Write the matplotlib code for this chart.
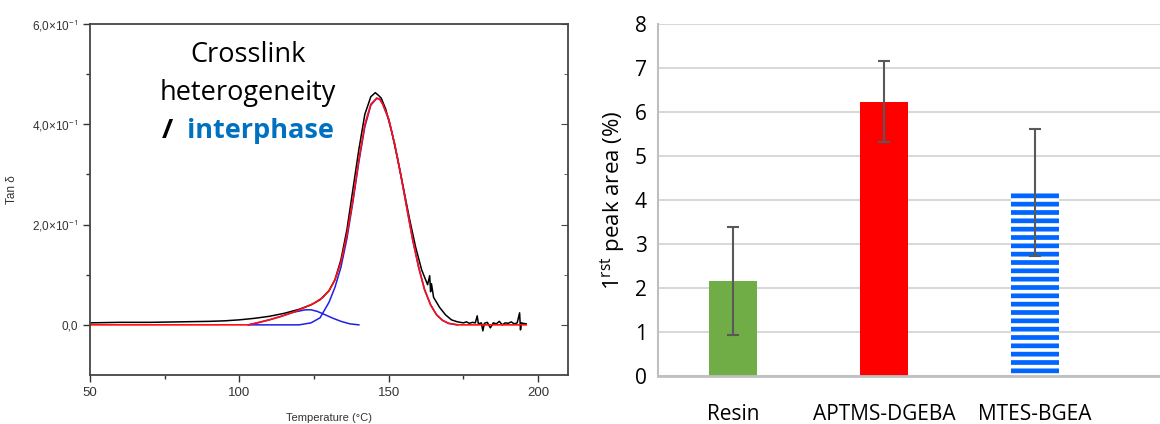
import numpy as np
import matplotlib
matplotlib.use('Agg')
import matplotlib.pyplot as plt
from matplotlib.ticker import MultipleLocator, FixedLocator

# ---- left panel : tan delta vs temperature ----
temp_meas = [50, 60, 70, 80, 90, 95, 100, 105, 110, 115, 120, 124, 127, 130, 132, 134, 136, 138,
             140, 142, 144, 145.5, 146.5, 147.5, 149, 151, 153, 155, 157, 159, 161, 163, 163.7,
             164.0, 164.3, 165, 167, 169, 171, 173, 175, 176, 177, 178, 179, 179.6, 180, 181,
             181.5, 182, 183, 184, 185, 186, 187, 188, 189, 190, 191, 192, 193, 193.8, 194.1,
             194.4, 195, 196]
tan_meas = [0.004, 0.005, 0.005, 0.006, 0.007, 0.008, 0.010, 0.013, 0.017, 0.023, 0.031, 0.040,
            0.050, 0.068, 0.090, 0.130, 0.190, 0.270, 0.350, 0.420, 0.455, 0.463, 0.458, 0.452,
            0.430, 0.385, 0.330, 0.270, 0.210, 0.155, 0.110, 0.080, 0.098, 0.066, 0.082, 0.055,
            0.035, 0.020, 0.010, 0.006, 0.004, 0.006, 0.003, 0.005, 0.004, 0.018, 0.002, 0.004,
            -0.012, 0.003, 0.005, -0.006, 0.004, 0.002, 0.007, 0.000, 0.004, 0.003, 0.006, 0.002,
            0.004, 0.024, -0.010, 0.004, 0.003, 0.002]

temp_fit = [50, 100, 103, 106, 110, 114, 118, 122, 125, 128, 130, 132, 134, 136, 138, 140, 142,
            144, 146, 147, 148, 150, 152, 154, 156, 158, 160, 162, 164, 166, 168, 170, 173, 196]
tan_fit = [0, 0, 0, 0.004, 0.010, 0.017, 0.025, 0.035, 0.043, 0.055, 0.068, 0.090, 0.125, 0.180,
           0.250, 0.330, 0.400, 0.440, 0.452, 0.450, 0.440, 0.410, 0.360, 0.300, 0.235, 0.170,
           0.115, 0.070, 0.040, 0.020, 0.009, 0.003, 0, 0]

temp_main = [103, 120, 124, 127, 130, 132, 134, 136, 138, 140, 142, 144, 146, 147, 148, 150, 152,
             154, 156, 158, 160, 162, 164, 166, 168, 170, 173]
tan_main = [0, 0, 0.004, 0.014, 0.045, 0.075, 0.115, 0.172, 0.245, 0.325, 0.395, 0.438, 0.452,
            0.450, 0.440, 0.410, 0.360, 0.300, 0.235, 0.170, 0.115, 0.070, 0.040, 0.020, 0.009,
            0.003, 0]

temp_small = [103, 106, 110, 114, 118, 122, 124, 126, 128, 131, 134, 137, 140]
tan_small = [0, 0.004, 0.010, 0.017, 0.025, 0.030, 0.030, 0.027, 0.022, 0.014, 0.007, 0.002, 0]

# ---- right panel : first peak area ----
samples = ['Resin', 'APTMS-DGEBA', 'MTES-BGEA']
peak_area = [2.16, 6.23, 4.17]
peak_err = [1.22, 0.92, 1.45]

plt.rcParams['hatch.linewidth'] = 3.4
plt.rcParams['mathtext.fontset'] = 'custom'
plt.rcParams['mathtext.rm'] = 'Open Sans'
plt.rcParams['mathtext.it'] = 'Open Sans'

fig = plt.figure(figsize=(11.6, 4.24), dpi=100)

ax1 = fig.add_axes([90/1160, 1-375/424, 478/1160, 351/424])
ax1.plot(temp_meas, tan_meas, color='black', lw=1.1)
ax1.plot(temp_small, tan_small, color='#1f1fe6', lw=1.1)
ax1.plot(temp_main, tan_main, color='#1f1fe6', lw=1.1)
ax1.plot(temp_fit, tan_fit, color='#ff1010', lw=1.2)

ax1.set_xlim(50, 210)
ax1.set_ylim(-0.1, 0.6)
ax1.xaxis.set_major_locator(FixedLocator([50, 100, 150, 200]))
ax1.xaxis.set_minor_locator(FixedLocator([75, 125, 175]))
ax1.yaxis.set_major_locator(FixedLocator([0.0, 0.2, 0.4, 0.6]))
ax1.yaxis.set_minor_locator(FixedLocator([0.1, 0.3, 0.5]))
ax1.set_yticklabels(['0,0', '2,0×10$^{-1}$', '4,0×10$^{-1}$', '6,0×10$^{-1}$'])
ax1.tick_params(which='both', direction='out', labelsize=8.5, colors='#333333',
                labelcolor='#333333', width=1)
ax1.tick_params(which='major', length=5)
ax1.tick_params(which='minor', length=3)
ax1.tick_params(axis='x', labelsize=9.5)
for lab in ax1.get_xticklabels() + ax1.get_yticklabels():
    lab.set_family('Liberation Sans')
for s in ax1.spines.values():
    s.set_color('#444444')
    s.set_linewidth(1.3)
# mirrored ticks on the right side, pointing inward
sec = ax1.secondary_yaxis('right')
sec.yaxis.set_major_locator(FixedLocator([0.0, 0.2, 0.4, 0.6]))
sec.yaxis.set_minor_locator(FixedLocator([0.1, 0.3, 0.5]))
sec.tick_params(which='both', direction='in', labelright=False, color='#444444')
sec.tick_params(which='major', length=5)
sec.tick_params(which='minor', length=3)
sec.spines['right'].set_visible(False)

ax1.set_ylabel('Tan δ', fontsize=8.5, color='#333333', family='Liberation Sans')
ax1.yaxis.set_label_coords(-0.15, 0.527)
ax1.set_xlabel('Temperature (°C)', fontsize=8, color='#333333', family='Liberation Sans',
               labelpad=10)

fnt = 'Open Sans'
ax1.text(0.33, 0.892, 'Crosslink', transform=ax1.transAxes, ha='center', va='baseline',
         fontsize=19.5, family=fnt)
ax1.text(0.33, 0.783, 'heterogeneity', transform=ax1.transAxes, ha='center', va='baseline',
         fontsize=19.5, family=fnt)
ax1.text(0.163, 0.675, '/', transform=ax1.transAxes, ha='center', va='baseline',
         fontsize=19.5, family=fnt, fontweight='bold')
ax1.text(0.203, 0.675, 'interphase', transform=ax1.transAxes, ha='left', va='baseline',
         fontsize=19.5, family=fnt, fontweight='bold', color='#0070c0')

# right bar chart
ax2 = fig.add_axes([658/1160, 1-376/424, 502/1160, 352/424])
x = np.arange(len(samples))
ax2.bar(x[0], peak_area[0], width=0.32, color='#70ad47', zorder=2)
ax2.bar(x[1], peak_area[1], width=0.32, color='#ff0000', zorder=2)
ax2.bar(x[2], peak_area[2], width=0.32, facecolor='white', edgecolor='#0066ff',
        hatch='--', lw=0, zorder=2)
ax2.errorbar(x, peak_area, yerr=peak_err, fmt='none', ecolor='#595959', elinewidth=1.5,
             capsize=4, capthick=1.5, zorder=3)
ax2.set_xlim(-0.5, 2.83)
ax2.set_ylim(0, 8)
ax2.yaxis.set_major_locator(MultipleLocator(1))
ax2.set_xticks(x)
ax2.set_xticklabels(samples, fontsize=15, family=fnt)
ax2.tick_params(axis='both', length=0, pad=8)
ax2.tick_params(axis='x', pad=20)
for lab in ax2.get_yticklabels():
    lab.set_fontsize(15)
    lab.set_family(fnt)
ax2.grid(axis='y', color='#d9d9d9', lw=1.5, zorder=0)
ax2.set_axisbelow(True)
for k in ['top', 'right']:
    ax2.spines[k].set_visible(False)
ax2.spines['left'].set_color('#bfbfbf')
ax2.spines['bottom'].set_color('#bfbfbf')
ax2.spines['left'].set_linewidth(1.5)
ax2.spines['bottom'].set_linewidth(2)
ax2.set_ylabel('1$^{\\mathregular{rst}}$ peak area (%)', fontsize=16, family=fnt, labelpad=6)

fig.savefig('out.png', dpi=100)
